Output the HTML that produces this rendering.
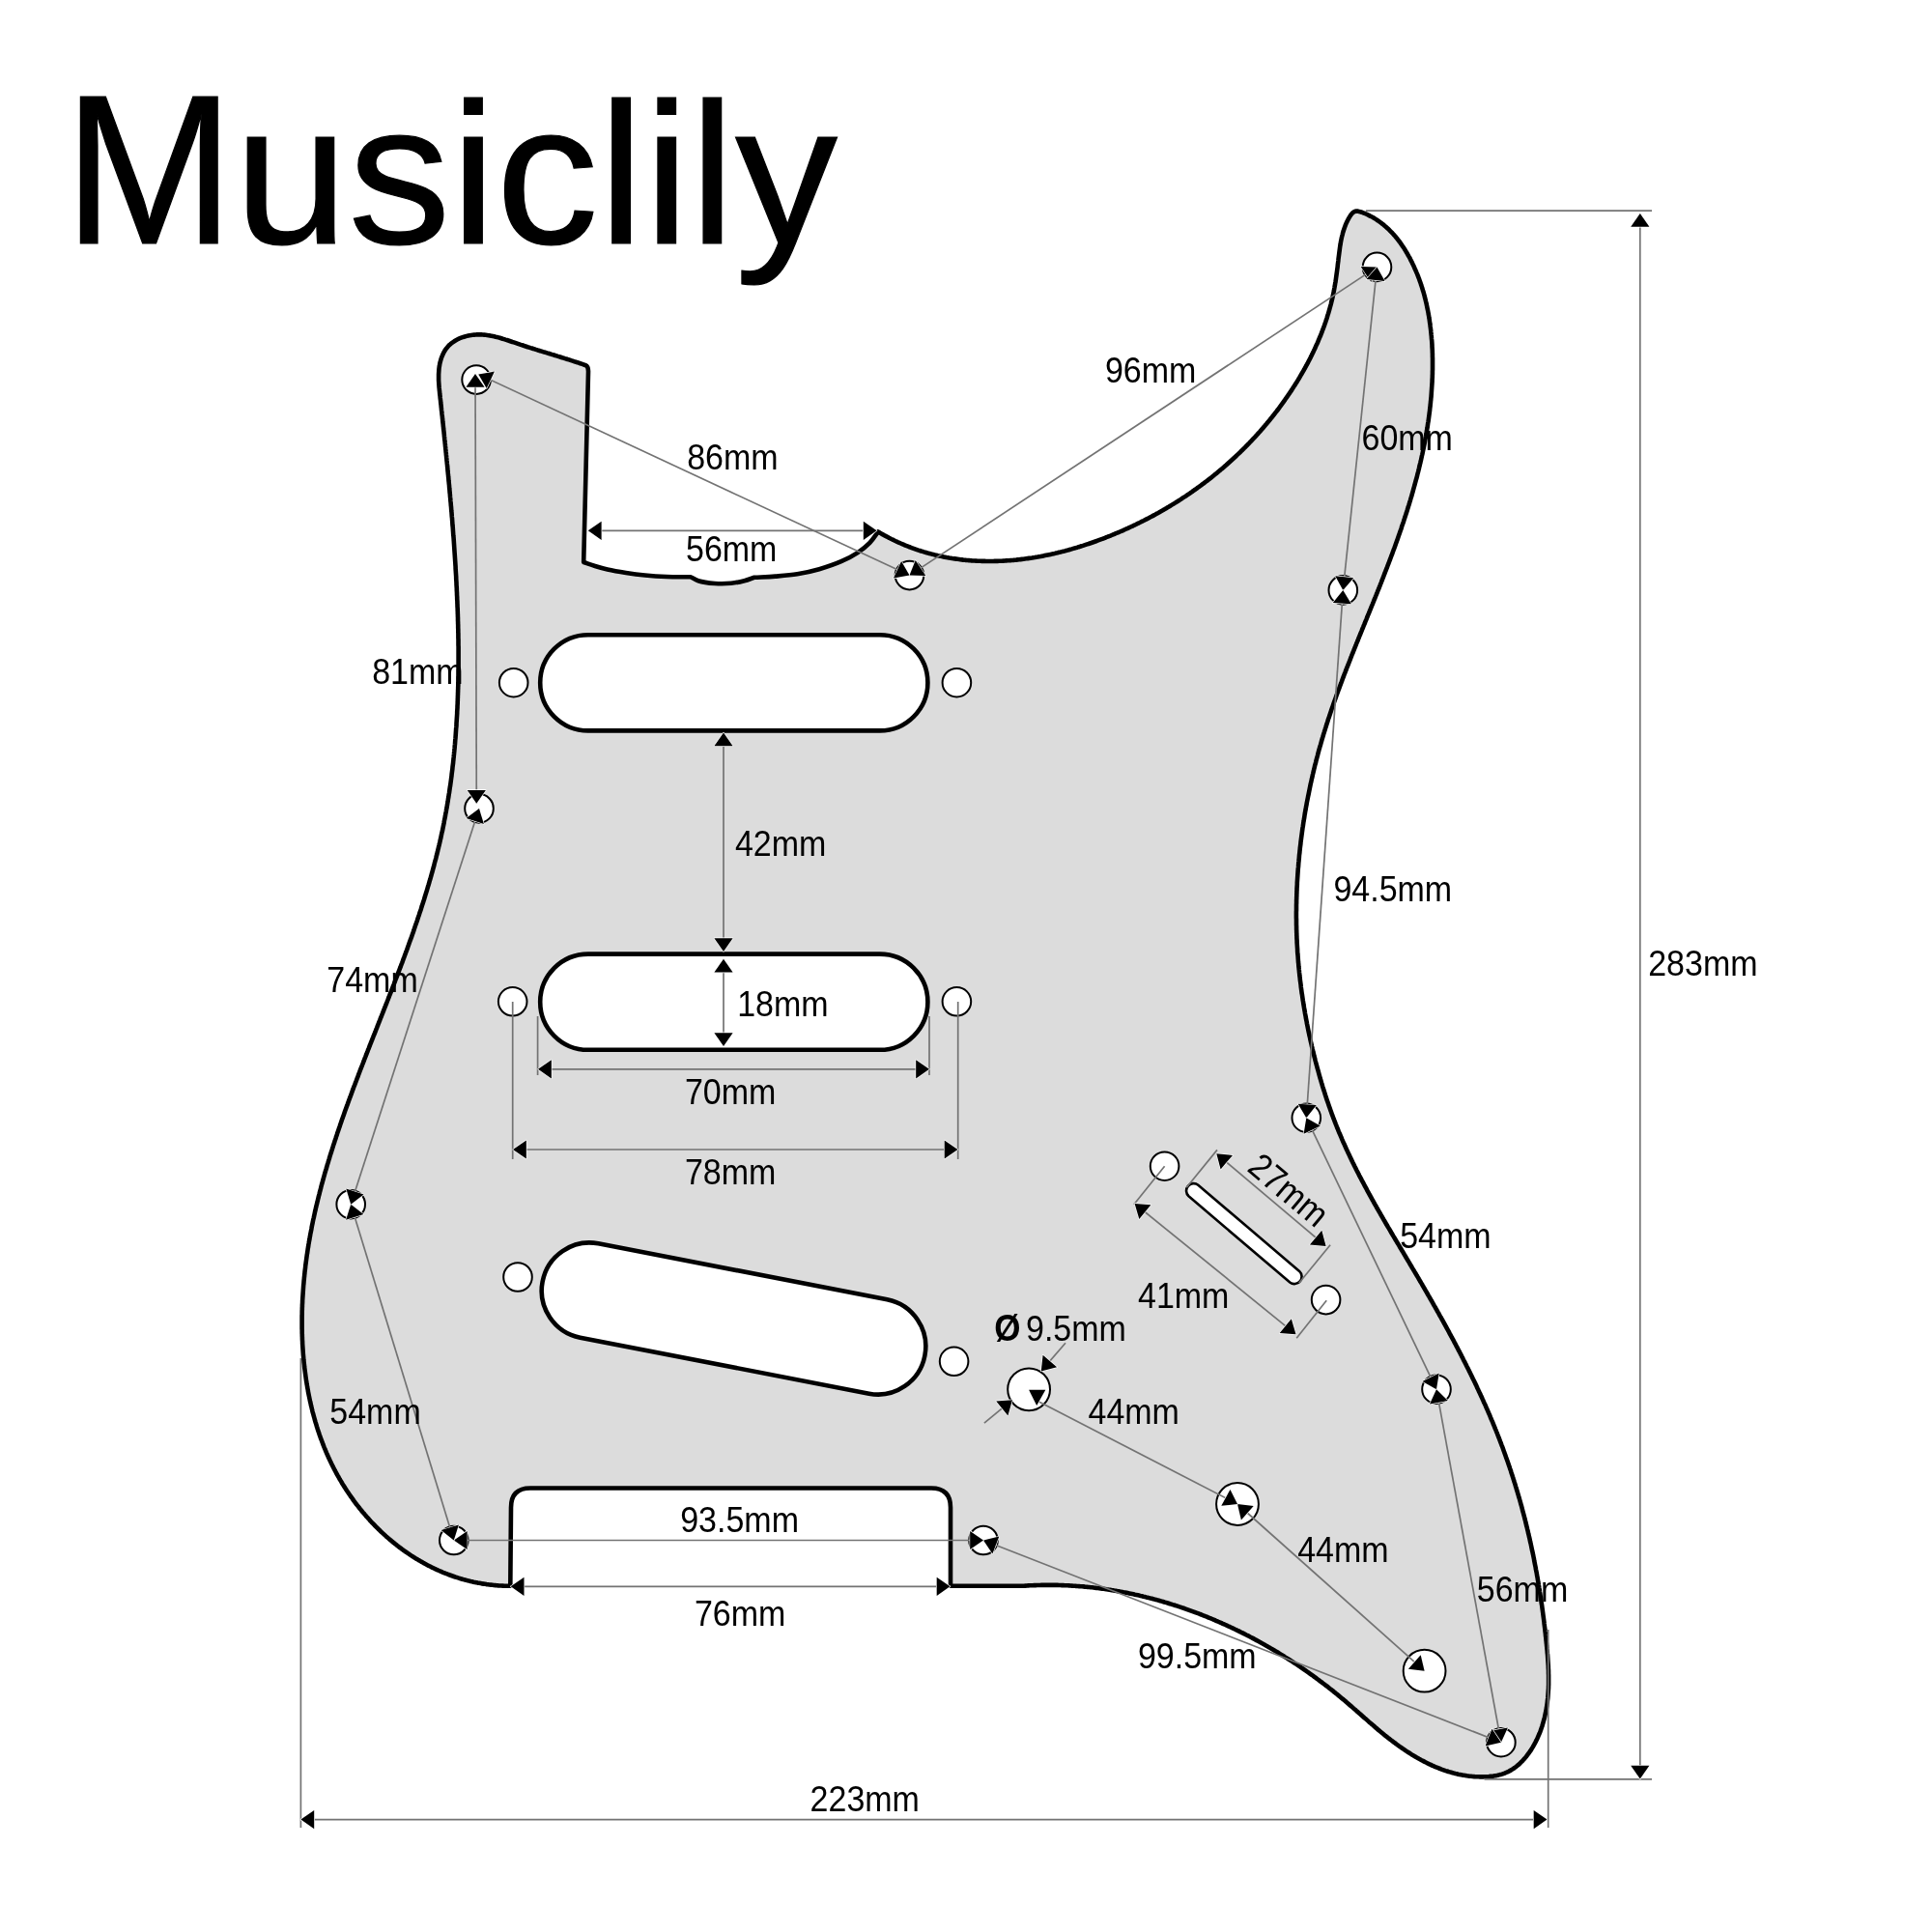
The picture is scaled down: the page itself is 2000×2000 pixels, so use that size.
<!DOCTYPE html><html><head><meta charset="utf-8"><style>html,body{margin:0;padding:0;background:#fff;}svg{display:block;will-change:transform}</style></head><body><svg xmlns="http://www.w3.org/2000/svg" width="2000" height="2000" viewBox="0 0 2000 2000"><rect width="2000" height="2000" fill="#fff"/><g font-family="Liberation Sans" font-size="212" fill="#000" stroke="#000" stroke-width="1.2"><text transform="translate(66,252.3) scale(1,1.039)">M</text><text transform="translate(242.6,252.3) scale(1,0.982)">usiclily</text></g><path d="M528.3,1641.8 L526.7,1641.8 L525.2,1641.8 L523.6,1641.7 L522.0,1641.7 L520.5,1641.6 L518.9,1641.5 L517.4,1641.5 L515.9,1641.4 L514.3,1641.2 L512.8,1641.1 L511.2,1641.0 L509.7,1640.8 L508.2,1640.6 L506.7,1640.5 L505.1,1640.3 L503.6,1640.1 L502.1,1639.8 L500.6,1639.6 L499.1,1639.4 L497.6,1639.1 L496.1,1638.8 L494.6,1638.6 L493.1,1638.3 L491.6,1638.0 L490.2,1637.7 L488.7,1637.3 L487.2,1637.0 L485.8,1636.6 L484.3,1636.3 L482.8,1635.9 L481.4,1635.5 L479.9,1635.1 L478.5,1634.7 L477.0,1634.3 L475.6,1633.8 L474.2,1633.4 L472.7,1632.9 L471.3,1632.5 L469.9,1632.0 L468.5,1631.5 L467.1,1631.0 L465.7,1630.5 L464.3,1630.0 L462.9,1629.4 L461.5,1628.9 L460.1,1628.3 L458.7,1627.8 L457.3,1627.2 L456.0,1626.6 L454.6,1626.0 L453.2,1625.4 L451.9,1624.8 L450.5,1624.2 L449.2,1623.5 L447.8,1622.9 L446.5,1622.2 L445.2,1621.5 L443.8,1620.9 L442.5,1620.2 L441.2,1619.5 L439.9,1618.8 L438.6,1618.1 L437.3,1617.3 L436.0,1616.6 L434.7,1615.8 L433.4,1615.1 L432.1,1614.3 L430.8,1613.6 L429.6,1612.8 L428.3,1612.0 L427.1,1611.2 L425.8,1610.4 L424.6,1609.6 L423.3,1608.7 L422.1,1607.9 L420.9,1607.0 L419.6,1606.2 L418.4,1605.3 L417.2,1604.5 L416.0,1603.6 L414.8,1602.7 L413.6,1601.8 L412.4,1600.9 L411.2,1600.0 L410.1,1599.0 L408.9,1598.1 L407.7,1597.2 L406.6,1596.2 L405.4,1595.3 L404.3,1594.3 L403.1,1593.4 L402.0,1592.4 L400.9,1591.4 L399.7,1590.4 L398.6,1589.4 L397.5,1588.4 L396.4,1587.4 L395.3,1586.4 L394.2,1585.3 L393.2,1584.3 L392.1,1583.3 L391.0,1582.2 L389.9,1581.1 L388.9,1580.1 L387.8,1579.0 L386.8,1577.9 L385.8,1576.9 L384.7,1575.8 L383.7,1574.7 L382.7,1573.6 L381.7,1572.4 L380.7,1571.3 L379.7,1570.2 L378.7,1569.1 L377.7,1567.9 L376.8,1566.8 L375.8,1565.7 L374.8,1564.5 L373.9,1563.3 L372.9,1562.2 L372.0,1561.0 L371.1,1559.8 L370.1,1558.6 L369.2,1557.5 L368.3,1556.3 L367.4,1555.1 L366.5,1553.9 L365.6,1552.6 L364.8,1551.4 L363.9,1550.2 L363.0,1549.0 L362.2,1547.8 L361.3,1546.5 L360.5,1545.3 L359.6,1544.0 L358.8,1542.8 L358.0,1541.5 L357.2,1540.3 L356.4,1539.0 L355.6,1537.7 L354.8,1536.5 L354.0,1535.2 L353.3,1533.9 L352.5,1532.6 L351.7,1531.3 L351.0,1530.0 L350.3,1528.7 L349.5,1527.4 L348.8,1526.1 L348.1,1524.8 L347.4,1523.5 L346.7,1522.2 L346.0,1520.8 L345.3,1519.5 L344.6,1518.2 L344.0,1516.8 L343.3,1515.5 L342.7,1514.2 L342.0,1512.8 L341.4,1511.5 L340.8,1510.1 L340.1,1508.8 L339.5,1507.4 L338.9,1506.0 L338.3,1504.7 L337.7,1503.3 L337.1,1501.9 L336.6,1500.5 L336.0,1499.2 L335.4,1497.8 L334.9,1496.4 L334.3,1495.0 L333.8,1493.6 L333.3,1492.2 L332.8,1490.8 L332.2,1489.4 L331.7,1488.0 L331.2,1486.6 L330.7,1485.2 L330.3,1483.8 L329.8,1482.4 L329.3,1480.9 L328.8,1479.5 L328.4,1478.1 L327.9,1476.7 L327.5,1475.2 L327.1,1473.8 L326.6,1472.4 L326.2,1470.9 L325.8,1469.5 L325.4,1468.0 L325.0,1466.6 L324.6,1465.2 L324.2,1463.7 L323.8,1462.3 L323.4,1460.8 L323.1,1459.3 L322.7,1457.9 L322.4,1456.4 L322.0,1455.0 L321.7,1453.5 L321.4,1452.0 L321.0,1450.6 L320.7,1449.1 L320.4,1447.6 L320.1,1446.1 L319.8,1444.7 L319.5,1443.2 L319.2,1441.7 L318.9,1440.2 L318.7,1438.7 L318.4,1437.3 L318.1,1435.8 L317.9,1434.3 L317.6,1432.8 L317.4,1431.3 L317.1,1429.8 L316.9,1428.3 L316.7,1426.8 L316.5,1425.3 L316.3,1423.8 L316.1,1422.3 L315.9,1420.8 L315.7,1419.3 L315.5,1417.8 L315.3,1416.3 L315.1,1414.8 L315.0,1413.3 L314.8,1411.8 L314.6,1410.3 L314.5,1408.8 L314.3,1407.3 L314.2,1405.8 L314.1,1404.3 L313.9,1402.8 L313.8,1401.2 L313.7,1399.7 L313.6,1398.2 L313.5,1396.7 L313.4,1395.2 L313.3,1393.7 L313.2,1392.2 L313.1,1390.6 L313.1,1389.1 L313.0,1387.6 L312.9,1386.1 L312.9,1384.6 L312.8,1383.1 L312.8,1381.5 L312.7,1380.0 L312.7,1378.5 L312.7,1377.0 L312.6,1375.5 L312.6,1373.9 L312.6,1372.4 L312.6,1370.9 L312.6,1369.4 L312.6,1367.9 L312.6,1366.3 L312.6,1364.8 L312.6,1363.3 L312.6,1361.8 L312.7,1360.3 L312.7,1358.8 L312.7,1357.2 L312.8,1355.7 L312.8,1354.2 L312.9,1352.7 L312.9,1351.2 L313.0,1349.7 L313.1,1348.2 L313.1,1346.6 L313.2,1345.1 L313.3,1343.6 L313.4,1342.1 L313.5,1340.6 L313.6,1339.1 L313.7,1337.6 L313.8,1336.1 L313.9,1334.6 L314.0,1333.1 L314.1,1331.6 L314.2,1330.1 L314.4,1328.6 L314.5,1327.1 L314.6,1325.6 L314.8,1324.1 L314.9,1322.6 L315.1,1321.1 L315.2,1319.6 L315.4,1318.1 L315.5,1316.6 L315.7,1315.1 L315.9,1313.6 L316.1,1312.1 L316.2,1310.6 L316.4,1309.1 L316.6,1307.6 L316.8,1306.2 L317.0,1304.7 L317.2,1303.2 L317.4,1301.7 L317.6,1300.2 L317.8,1298.7 L318.1,1297.3 L318.3,1295.8 L318.5,1294.3 L318.7,1292.8 L319.0,1291.3 L319.2,1289.9 L319.4,1288.4 L319.7,1286.9 L319.9,1285.4 L320.2,1284.0 L320.5,1282.5 L320.7,1281.0 L321.0,1279.6 L321.2,1278.1 L321.5,1276.6 L321.8,1275.2 L322.1,1273.7 L322.4,1272.2 L322.6,1270.8 L322.9,1269.3 L323.2,1267.8 L323.5,1266.4 L323.8,1264.9 L324.1,1263.4 L324.4,1262.0 L324.8,1260.5 L325.1,1259.1 L325.4,1257.6 L325.7,1256.2 L326.0,1254.7 L326.4,1253.2 L326.7,1251.8 L327.0,1250.3 L327.4,1248.9 L327.7,1247.4 L328.1,1246.0 L328.4,1244.5 L328.8,1243.1 L329.1,1241.6 L329.5,1240.2 L329.8,1238.7 L330.2,1237.3 L330.6,1235.8 L330.9,1234.4 L331.3,1233.0 L331.7,1231.5 L332.1,1230.1 L332.4,1228.6 L332.8,1227.2 L333.2,1225.7 L333.6,1224.3 L334.0,1222.9 L334.4,1221.4 L334.8,1220.0 L335.2,1218.5 L335.6,1217.1 L336.0,1215.7 L336.4,1214.2 L336.8,1212.8 L337.2,1211.4 L337.7,1209.9 L338.1,1208.5 L338.5,1207.1 L338.9,1205.6 L339.4,1204.2 L339.8,1202.8 L340.2,1201.3 L340.7,1199.9 L341.1,1198.5 L341.5,1197.0 L342.0,1195.6 L342.4,1194.2 L342.9,1192.8 L343.3,1191.3 L343.8,1189.9 L344.2,1188.5 L344.7,1187.0 L345.1,1185.6 L345.6,1184.2 L346.1,1182.8 L346.5,1181.3 L347.0,1179.9 L347.5,1178.5 L347.9,1177.1 L348.4,1175.7 L348.9,1174.2 L349.3,1172.8 L349.8,1171.4 L350.3,1170.0 L350.8,1168.6 L351.3,1167.1 L351.8,1165.7 L352.2,1164.3 L352.7,1162.9 L353.2,1161.5 L353.7,1160.0 L354.2,1158.6 L354.7,1157.2 L355.2,1155.8 L355.7,1154.4 L356.2,1153.0 L356.7,1151.5 L357.2,1150.1 L357.7,1148.7 L358.2,1147.3 L358.7,1145.9 L359.2,1144.5 L359.8,1143.1 L360.3,1141.6 L360.8,1140.2 L361.3,1138.8 L361.8,1137.4 L362.3,1136.0 L362.9,1134.6 L363.4,1133.2 L363.9,1131.8 L364.4,1130.4 L364.9,1128.9 L365.5,1127.5 L366.0,1126.1 L366.5,1124.7 L367.1,1123.3 L367.6,1121.9 L368.1,1120.5 L368.7,1119.1 L369.2,1117.7 L369.7,1116.3 L370.3,1114.9 L370.8,1113.5 L371.3,1112.0 L371.9,1110.6 L372.4,1109.2 L372.9,1107.8 L373.5,1106.4 L374.0,1105.0 L374.6,1103.6 L375.1,1102.2 L375.7,1100.8 L376.2,1099.4 L376.8,1098.0 L377.3,1096.6 L377.8,1095.2 L378.4,1093.8 L378.9,1092.4 L379.5,1091.0 L380.0,1089.6 L380.6,1088.1 L381.1,1086.7 L381.7,1085.3 L382.2,1083.9 L382.8,1082.5 L383.3,1081.1 L383.9,1079.7 L384.4,1078.3 L385.0,1076.9 L385.5,1075.5 L386.1,1074.1 L386.6,1072.7 L387.2,1071.3 L387.8,1069.9 L388.3,1068.5 L388.9,1067.1 L389.4,1065.7 L390.0,1064.3 L390.5,1062.9 L391.1,1061.5 L391.6,1060.1 L392.2,1058.7 L392.7,1057.3 L393.3,1055.8 L393.8,1054.4 L394.4,1053.0 L395.0,1051.6 L395.5,1050.2 L396.1,1048.8 L396.6,1047.4 L397.2,1046.0 L397.7,1044.6 L398.3,1043.2 L398.8,1041.8 L399.4,1040.4 L399.9,1039.0 L400.5,1037.6 L401.0,1036.2 L401.6,1034.8 L402.1,1033.4 L402.7,1032.0 L403.2,1030.6 L403.8,1029.2 L404.3,1027.8 L404.9,1026.3 L405.4,1024.9 L406.0,1023.5 L406.5,1022.1 L407.0,1020.7 L407.6,1019.3 L408.1,1017.9 L408.7,1016.5 L409.2,1015.1 L409.7,1013.7 L410.3,1012.3 L410.8,1010.9 L411.4,1009.5 L411.9,1008.1 L412.4,1006.6 L413.0,1005.2 L413.5,1003.8 L414.0,1002.4 L414.6,1001.0 L415.1,999.6 L415.6,998.2 L416.2,996.8 L416.7,995.4 L417.2,994.0 L417.7,992.5 L418.3,991.1 L418.8,989.7 L419.3,988.3 L419.8,986.9 L420.3,985.5 L420.9,984.1 L421.4,982.7 L421.9,981.2 L422.4,979.8 L422.9,978.4 L423.4,977.0 L423.9,975.6 L424.4,974.2 L425.0,972.7 L425.5,971.3 L426.0,969.9 L426.5,968.5 L427.0,967.1 L427.5,965.7 L428.0,964.2 L428.5,962.8 L428.9,961.4 L429.4,960.0 L429.9,958.6 L430.4,957.1 L430.9,955.7 L431.4,954.3 L431.9,952.9 L432.3,951.5 L432.8,950.0 L433.3,948.6 L433.8,947.2 L434.2,945.8 L434.7,944.3 L435.2,942.9 L435.7,941.5 L436.1,940.1 L436.6,938.6 L437.0,937.2 L437.5,935.8 L438.0,934.3 L438.4,932.9 L438.9,931.5 L439.3,930.1 L439.8,928.6 L440.2,927.2 L440.6,925.8 L441.1,924.3 L441.5,922.9 L442.0,921.5 L442.4,920.0 L442.8,918.6 L443.2,917.2 L443.7,915.7 L444.1,914.3 L444.5,912.9 L444.9,911.4 L445.4,910.0 L445.8,908.5 L446.2,907.1 L446.6,905.7 L447.0,904.2 L447.4,902.8 L447.8,901.3 L448.2,899.9 L448.6,898.4 L449.0,897.0 L449.4,895.6 L449.7,894.1 L450.1,892.7 L450.5,891.2 L450.9,889.8 L451.3,888.3 L451.6,886.9 L452.0,885.4 L452.4,884.0 L452.7,882.5 L453.1,881.1 L453.4,879.6 L453.8,878.2 L454.1,876.7 L454.5,875.3 L454.8,873.8 L455.2,872.3 L455.5,870.9 L455.8,869.4 L456.2,868.0 L456.5,866.5 L456.8,865.0 L457.1,863.6 L457.4,862.1 L457.8,860.7 L458.1,859.2 L458.4,857.7 L458.7,856.3 L459.0,854.8 L459.3,853.3 L459.6,851.9 L459.8,850.4 L460.1,848.9 L460.4,847.5 L460.7,846.0 L461.0,844.5 L461.2,843.0 L461.5,841.6 L461.8,840.1 L462.0,838.6 L462.3,837.2 L462.6,835.7 L462.8,834.2 L463.1,832.7 L463.3,831.2 L463.6,829.8 L463.8,828.3 L464.0,826.8 L464.3,825.3 L464.5,823.8 L464.7,822.4 L465.0,820.9 L465.2,819.4 L465.4,817.9 L465.6,816.4 L465.8,815.0 L466.1,813.5 L466.3,812.0 L466.5,810.5 L466.7,809.0 L466.9,807.5 L467.1,806.0 L467.3,804.5 L467.5,803.1 L467.6,801.6 L467.8,800.1 L468.0,798.6 L468.2,797.1 L468.4,795.6 L468.5,794.1 L468.7,792.6 L468.9,791.1 L469.1,789.6 L469.2,788.1 L469.4,786.7 L469.5,785.2 L469.7,783.7 L469.8,782.2 L470.0,780.7 L470.1,779.2 L470.3,777.7 L470.4,776.2 L470.6,774.7 L470.7,773.2 L470.8,771.7 L471.0,770.2 L471.1,768.7 L471.2,767.2 L471.3,765.7 L471.5,764.2 L471.6,762.7 L471.7,761.2 L471.8,759.7 L471.9,758.2 L472.0,756.7 L472.1,755.2 L472.2,753.7 L472.4,752.2 L472.5,750.7 L472.5,749.2 L472.6,747.7 L472.7,746.2 L472.8,744.7 L472.9,743.2 L473.0,741.7 L473.1,740.2 L473.2,738.7 L473.2,737.2 L473.3,735.6 L473.4,734.1 L473.5,732.6 L473.5,731.1 L473.6,729.6 L473.7,728.1 L473.7,726.6 L473.8,725.1 L473.8,723.6 L473.9,722.1 L473.9,720.6 L474.0,719.1 L474.0,717.6 L474.1,716.1 L474.1,714.6 L474.2,713.1 L474.2,711.6 L474.3,710.0 L474.3,708.5 L474.3,707.0 L474.4,705.5 L474.4,704.0 L474.4,702.5 L474.4,701.0 L474.5,699.5 L474.5,698.0 L474.5,696.5 L474.5,695.0 L474.5,693.5 L474.6,692.0 L474.6,690.5 L474.6,689.0 L474.6,687.4 L474.6,685.9 L474.6,684.4 L474.6,682.9 L474.6,681.4 L474.6,679.9 L474.6,678.4 L474.6,676.9 L474.6,675.4 L474.6,673.9 L474.6,672.4 L474.6,670.9 L474.6,669.4 L474.5,667.9 L474.5,666.4 L474.5,664.9 L474.5,663.3 L474.5,661.8 L474.4,660.3 L474.4,658.8 L474.4,657.3 L474.4,655.8 L474.3,654.3 L474.3,652.8 L474.3,651.3 L474.2,649.8 L474.2,648.3 L474.2,646.8 L474.1,645.3 L474.1,643.8 L474.0,642.3 L474.0,640.8 L474.0,639.3 L473.9,637.8 L473.9,636.3 L473.8,634.8 L473.8,633.3 L473.7,631.8 L473.7,630.3 L473.6,628.8 L473.5,627.3 L473.5,625.8 L473.4,624.3 L473.4,622.8 L473.3,621.3 L473.2,619.8 L473.2,618.3 L473.1,616.8 L473.0,615.3 L473.0,613.8 L472.9,612.3 L472.8,610.8 L472.8,609.3 L472.7,607.8 L472.6,606.3 L472.5,604.8 L472.5,603.3 L472.4,601.8 L472.3,600.4 L472.2,598.9 L472.2,597.4 L472.1,595.9 L472.0,594.4 L471.9,592.9 L471.8,591.4 L471.7,589.9 L471.6,588.4 L471.6,586.9 L471.5,585.5 L471.4,584.0 L471.3,582.5 L471.2,581.0 L471.1,579.5 L471.0,578.0 L470.9,576.5 L470.8,575.0 L470.7,573.6 L470.6,572.1 L470.5,570.6 L470.4,569.1 L470.3,567.6 L470.2,566.1 L470.1,564.7 L470.0,563.2 L469.9,561.7 L469.8,560.2 L469.7,558.7 L469.6,557.2 L469.5,555.8 L469.3,554.3 L469.2,552.8 L469.1,551.3 L469.0,549.8 L468.9,548.3 L468.8,546.9 L468.7,545.4 L468.5,543.9 L468.4,542.4 L468.3,540.9 L468.2,539.4 L468.1,538.0 L468.0,536.5 L467.8,535.0 L467.7,533.5 L467.6,532.0 L467.5,530.5 L467.3,529.1 L467.2,527.6 L467.1,526.1 L467.0,524.6 L466.8,523.1 L466.7,521.6 L466.6,520.2 L466.4,518.7 L466.3,517.2 L466.2,515.7 L466.0,514.2 L465.9,512.7 L465.8,511.2 L465.6,509.8 L465.5,508.3 L465.4,506.8 L465.2,505.3 L465.1,503.8 L465.0,502.3 L464.8,500.8 L464.7,499.3 L464.5,497.9 L464.4,496.4 L464.3,494.9 L464.1,493.4 L464.0,491.9 L463.8,490.4 L463.7,488.9 L463.5,487.4 L463.4,485.9 L463.3,484.4 L463.1,482.9 L463.0,481.5 L462.8,480.0 L462.7,478.5 L462.5,477.0 L462.4,475.5 L462.2,474.0 L462.1,472.5 L461.9,471.0 L461.8,469.5 L461.6,468.0 L461.5,466.5 L461.3,465.0 L461.2,463.5 L461.0,462.0 L460.9,460.5 L460.7,459.0 L460.6,457.5 L460.4,456.0 L460.2,454.5 L460.1,453.0 L459.9,451.5 L459.8,449.9 L459.6,448.4 L459.5,446.9 L459.3,445.4 L459.1,443.9 L459.0,442.4 L458.8,440.9 L458.7,439.4 L458.5,437.9 L458.3,436.3 L458.2,434.8 L458.0,433.3 L457.9,431.8 L457.7,430.3 L457.5,428.7 L457.4,427.2 L457.2,425.7 L457.0,424.2 L456.9,422.7 L456.7,421.1 L456.6,419.6 L456.4,418.1 L456.2,416.6 L456.1,415.0 L455.9,413.5 L455.7,412.0 L455.6,410.4 L455.4,408.9 L455.2,407.4 L455.1,405.8 L454.9,404.3 L454.8,402.8 L454.6,401.2 L454.5,399.7 L454.4,398.2 L454.3,396.6 L454.2,395.1 L454.1,393.6 L454.1,392.0 L454.1,390.5 L454.1,389.0 L454.1,387.5 L454.2,386.0 L454.3,384.5 L454.4,383.0 L454.5,381.5 L454.7,380.0 L455.0,378.5 L455.2,377.0 L455.5,375.5 L455.9,374.1 L456.3,372.6 L456.7,371.2 L457.2,369.8 L457.8,368.4 L458.4,367.0 L459.0,365.7 L459.7,364.4 L460.4,363.1 L461.2,361.9 L462.1,360.7 L463.0,359.6 L463.9,358.5 L464.9,357.4 L466.0,356.5 L467.1,355.5 L468.3,354.6 L469.5,353.8 L470.7,353.0 L472.0,352.2 L473.3,351.5 L474.6,350.8 L476.0,350.2 L477.4,349.7 L478.8,349.2 L480.3,348.7 L481.8,348.3 L483.2,347.9 L484.7,347.5 L486.2,347.2 L487.7,347.0 L489.3,346.8 L490.8,346.6 L492.3,346.5 L493.8,346.4 L495.3,346.4 L496.8,346.4 L498.3,346.4 L499.8,346.5 L501.3,346.6 L502.8,346.8 L504.3,347.0 L505.7,347.2 L507.2,347.4 L508.7,347.7 L510.2,348.0 L511.6,348.3 L513.1,348.7 L514.6,349.0 L516.0,349.4 L517.5,349.8 L518.9,350.2 L520.4,350.7 L521.8,351.1 L523.3,351.6 L524.7,352.0 L526.2,352.5 L527.6,353.0 L529.0,353.5 L530.5,354.0 L531.9,354.4 L533.4,354.9 L534.8,355.4 L536.2,355.9 L537.7,356.4 L539.1,356.9 L540.5,357.3 L542.0,357.8 L543.4,358.3 L544.8,358.7 L546.3,359.2 L547.7,359.6 L549.1,360.1 L550.6,360.5 L552.0,361.0 L553.4,361.4 L554.8,361.9 L556.3,362.3 L557.7,362.8 L559.1,363.2 L560.6,363.6 L562.0,364.1 L563.4,364.5 L564.8,364.9 L566.3,365.4 L567.7,365.8 L569.1,366.2 L570.5,366.7 L572.0,367.1 L573.4,367.5 L574.8,368.0 L576.2,368.4 L577.7,368.9 L579.1,369.3 L580.5,369.7 L582.0,370.2 L583.4,370.6 L584.8,371.1 L586.2,371.5 L587.7,372.0 L589.1,372.4 L590.5,372.9 L592.0,373.4 L593.4,373.8 L594.8,374.3 L596.3,374.8 L597.7,375.2 L599.1,375.7 L600.6,376.2 L602.0,376.7 L603.4,377.2 L604.9,377.7 L606.3,378.2 Q609.2,379.5 609,385 L604.2,582  C608.13,583.33 611.97,584.77 616.00,586.00 C620.16,587.27 624.08,588.43 628.80,589.50 C634.53,590.80 641.55,592.00 648.00,593.00 C654.49,594.00 660.84,594.84 667.60,595.50 C674.81,596.20 682.34,596.71 690.00,597.00 C698.05,597.30 706.53,597.13 714.80,597.20 C717.47,598.53 719.54,600.14 722.80,601.20 C727.34,602.67 734.19,603.57 739.90,604.00 C745.56,604.43 751.56,604.33 756.90,603.80 C761.74,603.32 766.40,602.29 770.60,601.20 C774.29,600.24 777.40,598.93 780.80,597.80 C788.03,597.40 795.18,597.17 802.50,596.60 C810.01,596.01 817.75,595.53 825.30,594.30 C832.91,593.07 840.49,591.35 848.00,589.20 C855.66,587.00 863.85,584.25 870.80,581.20 C877.02,578.47 882.79,575.50 887.90,572.10 C892.56,569.00 896.81,565.63 900.40,561.90 C903.78,558.39 906.13,554.30 909.00,550.50 L910.4,551.3 L911.7,552.1 L913.1,552.9 L914.4,553.6 L915.8,554.4 L917.2,555.1 L918.5,555.8 L919.9,556.6 L921.3,557.3 L922.7,558.0 L924.1,558.6 L925.4,559.3 L926.8,560.0 L928.2,560.6 L929.6,561.3 L931.0,561.9 L932.4,562.5 L933.8,563.1 L935.2,563.7 L936.6,564.3 L938.0,564.9 L939.4,565.4 L940.8,566.0 L942.3,566.5 L943.7,567.1 L945.1,567.6 L946.5,568.1 L947.9,568.6 L949.3,569.1 L950.8,569.6 L952.2,570.0 L953.6,570.5 L955.1,570.9 L956.5,571.4 L957.9,571.8 L959.4,572.2 L960.8,572.6 L962.2,573.0 L963.7,573.4 L965.1,573.8 L966.6,574.1 L968.0,574.5 L969.4,574.8 L970.9,575.2 L972.3,575.5 L973.8,575.8 L975.2,576.1 L976.7,576.4 L978.2,576.7 L979.6,577.0 L981.1,577.2 L982.5,577.5 L984.0,577.7 L985.5,578.0 L986.9,578.2 L988.4,578.4 L989.8,578.6 L991.3,578.8 L992.8,579.0 L994.2,579.2 L995.7,579.4 L997.2,579.6 L998.7,579.7 L1000.1,579.9 L1001.6,580.0 L1003.1,580.1 L1004.6,580.2 L1006.0,580.4 L1007.5,580.5 L1009.0,580.5 L1010.5,580.6 L1011.9,580.7 L1013.4,580.8 L1014.9,580.8 L1016.4,580.9 L1017.9,580.9 L1019.3,580.9 L1020.8,581.0 L1022.3,581.0 L1023.8,581.0 L1025.3,581.0 L1026.8,581.0 L1028.2,581.0 L1029.7,580.9 L1031.2,580.9 L1032.7,580.9 L1034.2,580.8 L1035.7,580.7 L1037.1,580.7 L1038.6,580.6 L1040.1,580.5 L1041.6,580.4 L1043.1,580.3 L1044.6,580.2 L1046.1,580.1 L1047.5,580.0 L1049.0,579.9 L1050.5,579.7 L1052.0,579.6 L1053.5,579.4 L1055.0,579.3 L1056.4,579.1 L1057.9,578.9 L1059.4,578.7 L1060.9,578.5 L1062.4,578.3 L1063.9,578.1 L1065.3,577.9 L1066.8,577.7 L1068.3,577.5 L1069.8,577.2 L1071.3,577.0 L1072.7,576.7 L1074.2,576.5 L1075.7,576.2 L1077.2,576.0 L1078.7,575.7 L1080.1,575.4 L1081.6,575.1 L1083.1,574.8 L1084.6,574.5 L1086.0,574.2 L1087.5,573.9 L1089.0,573.6 L1090.4,573.2 L1091.9,572.9 L1093.4,572.5 L1094.8,572.2 L1096.3,571.8 L1097.8,571.5 L1099.2,571.1 L1100.7,570.7 L1102.2,570.4 L1103.6,570.0 L1105.1,569.6 L1106.5,569.2 L1108.0,568.8 L1109.4,568.4 L1110.9,567.9 L1112.4,567.5 L1113.8,567.1 L1115.3,566.7 L1116.7,566.2 L1118.1,565.8 L1119.6,565.3 L1121.0,564.9 L1122.5,564.4 L1123.9,563.9 L1125.4,563.4 L1126.8,563.0 L1128.2,562.5 L1129.7,562.0 L1131.1,561.5 L1132.5,561.0 L1133.9,560.5 L1135.4,560.0 L1136.8,559.4 L1138.2,558.9 L1139.6,558.4 L1141.1,557.9 L1142.5,557.3 L1143.9,556.8 L1145.3,556.2 L1146.7,555.7 L1148.1,555.1 L1149.5,554.6 L1150.9,554.0 L1152.3,553.4 L1153.7,552.8 L1155.1,552.2 L1156.5,551.7 L1157.9,551.1 L1159.3,550.5 L1160.7,549.9 L1162.1,549.3 L1163.4,548.7 L1164.8,548.0 L1166.2,547.4 L1167.6,546.8 L1168.9,546.2 L1170.3,545.5 L1171.7,544.9 L1173.0,544.3 L1174.4,543.6 L1175.8,543.0 L1177.1,542.3 L1178.5,541.6 L1179.8,541.0 L1181.2,540.3 L1182.5,539.6 L1183.9,539.0 L1185.2,538.3 L1186.5,537.6 L1187.9,536.9 L1189.2,536.2 L1190.5,535.5 L1191.9,534.8 L1193.2,534.1 L1194.5,533.4 L1195.8,532.7 L1197.1,531.9 L1198.5,531.2 L1199.8,530.5 L1201.1,529.7 L1202.4,529.0 L1203.7,528.3 L1205.0,527.5 L1206.3,526.8 L1207.6,526.0 L1208.8,525.2 L1210.1,524.5 L1211.4,523.7 L1212.7,522.9 L1214.0,522.1 L1215.2,521.4 L1216.5,520.6 L1217.8,519.8 L1219.1,519.0 L1220.3,518.2 L1221.6,517.4 L1222.8,516.6 L1224.1,515.7 L1225.3,514.9 L1226.6,514.1 L1227.8,513.3 L1229.1,512.4 L1230.3,511.6 L1231.5,510.8 L1232.8,509.9 L1234.0,509.1 L1235.2,508.2 L1236.4,507.3 L1237.7,506.5 L1238.9,505.6 L1240.1,504.7 L1241.3,503.9 L1242.5,503.0 L1243.7,502.1 L1244.9,501.2 L1246.1,500.3 L1247.3,499.4 L1248.5,498.5 L1249.7,497.6 L1250.8,496.7 L1252.0,495.8 L1253.2,494.9 L1254.4,493.9 L1255.5,493.0 L1256.7,492.1 L1257.9,491.1 L1259.0,490.2 L1260.2,489.2 L1261.3,488.3 L1262.5,487.3 L1263.6,486.4 L1264.7,485.4 L1265.9,484.4 L1267.0,483.5 L1268.1,482.5 L1269.3,481.5 L1270.4,480.5 L1271.5,479.5 L1272.6,478.5 L1273.7,477.5 L1274.8,476.5 L1275.9,475.5 L1277.0,474.5 L1278.1,473.5 L1279.2,472.5 L1280.3,471.4 L1281.4,470.4 L1282.5,469.4 L1283.6,468.3 L1284.6,467.3 L1285.7,466.3 L1286.8,465.2 L1287.8,464.1 L1288.9,463.1 L1289.9,462.0 L1291.0,461.0 L1292.0,459.9 L1293.1,458.8 L1294.1,457.7 L1295.2,456.6 L1296.2,455.5 L1297.2,454.4 L1298.2,453.4 L1299.3,452.2 L1300.3,451.1 L1301.3,450.0 L1302.3,448.9 L1303.3,447.8 L1304.3,446.7 L1305.3,445.5 L1306.3,444.4 L1307.3,443.3 L1308.2,442.1 L1309.2,441.0 L1310.2,439.8 L1311.2,438.7 L1312.1,437.5 L1313.1,436.4 L1314.1,435.2 L1315.0,434.0 L1316.0,432.8 L1316.9,431.7 L1317.8,430.5 L1318.8,429.3 L1319.7,428.1 L1320.6,426.9 L1321.6,425.7 L1322.5,424.5 L1323.4,423.3 L1324.3,422.1 L1325.2,420.8 L1326.1,419.6 L1327.0,418.4 L1327.9,417.2 L1328.8,415.9 L1329.7,414.7 L1330.5,413.4 L1331.4,412.2 L1332.3,410.9 L1333.1,409.7 L1334.0,408.4 L1334.9,407.2 L1335.7,405.9 L1336.6,404.6 L1337.4,403.4 L1338.2,402.1 L1339.0,400.8 L1339.9,399.5 L1340.7,398.2 L1341.5,396.9 L1342.3,395.7 L1343.1,394.4 L1343.9,393.1 L1344.7,391.8 L1345.5,390.4 L1346.2,389.1 L1347.0,387.8 L1347.8,386.5 L1348.5,385.2 L1349.3,383.9 L1350.0,382.5 L1350.8,381.2 L1351.5,379.9 L1352.2,378.5 L1353.0,377.2 L1353.7,375.9 L1354.4,374.5 L1355.1,373.2 L1355.8,371.8 L1356.5,370.5 L1357.1,369.1 L1357.8,367.8 L1358.5,366.4 L1359.1,365.1 L1359.8,363.7 L1360.4,362.3 L1361.1,361.0 L1361.7,359.6 L1362.3,358.2 L1362.9,356.8 L1363.6,355.5 L1364.2,354.1 L1364.8,352.7 L1365.3,351.3 L1365.9,349.9 L1366.5,348.5 L1367.1,347.2 L1367.6,345.8 L1368.2,344.4 L1368.7,343.0 L1369.2,341.6 L1369.8,340.2 L1370.3,338.8 L1370.8,337.4 L1371.3,336.0 L1371.8,334.6 L1372.3,333.2 L1372.7,331.8 L1373.2,330.4 L1373.7,328.9 L1374.1,327.5 L1374.5,326.1 L1375.0,324.7 L1375.4,323.3 L1375.8,321.9 L1376.2,320.5 L1376.6,319.0 L1377.0,317.6 L1377.4,316.2 L1377.8,314.8 L1378.1,313.4 L1378.5,311.9 L1378.8,310.5 L1379.2,309.1 L1379.5,307.7 L1379.8,306.2 L1380.1,304.8 L1380.4,303.4 L1380.7,301.9 L1381.0,300.5 L1381.2,299.1 L1381.5,297.6 L1381.7,296.2 L1382.0,294.8 L1382.2,293.3 L1382.5,291.9 L1382.7,290.4 L1382.9,289.0 L1383.1,287.5 L1383.3,286.1 L1383.5,284.6 L1383.7,283.2 L1383.9,281.7 L1384.1,280.2 L1384.3,278.7 L1384.5,277.3 L1384.7,275.8 L1384.8,274.3 L1385.0,272.8 L1385.2,271.3 L1385.4,269.7 L1385.5,268.2 L1385.7,266.7 L1385.9,265.2 L1386.1,263.7 L1386.3,262.1 L1386.5,260.6 L1386.7,259.1 L1386.9,257.5 L1387.1,256.0 L1387.3,254.5 L1387.6,253.0 L1387.8,251.5 L1388.1,249.9 L1388.4,248.4 L1388.7,246.9 L1389.0,245.5 L1389.4,244.0 L1389.8,242.5 L1390.1,241.1 L1390.6,239.6 L1391.0,238.2 L1391.5,236.7 L1392.0,235.3 L1392.5,233.9 L1393.0,232.6 L1393.6,231.2 L1394.2,229.9 L1394.9,228.5 L1395.6,227.2 L1396.3,225.9 L1397.0,224.7 L1397.8,223.4 L1398.6,222.2 L1399.5,221.1 L1400.5,220.1 L1401.6,219.3 L1402.7,218.8 L1404.0,218.6 L1405.3,218.6 L1406.8,218.9 L1408.2,219.2 L1409.7,219.7 L1411.2,220.3 L1412.7,220.9 L1414.1,221.5 L1415.6,222.2 L1417.0,222.9 L1418.3,223.6 L1419.7,224.3 L1421.1,225.0 L1422.4,225.8 L1423.7,226.6 L1425.0,227.4 L1426.2,228.3 L1427.5,229.1 L1428.7,230.0 L1429.9,230.9 L1431.1,231.8 L1432.3,232.7 L1433.4,233.7 L1434.6,234.7 L1435.7,235.7 L1436.8,236.7 L1437.8,237.7 L1438.9,238.8 L1439.9,239.8 L1441.0,240.9 L1442.0,242.0 L1443.0,243.1 L1444.0,244.2 L1444.9,245.4 L1445.9,246.5 L1446.8,247.7 L1447.7,248.8 L1448.6,250.0 L1449.5,251.2 L1450.3,252.4 L1451.2,253.7 L1452.0,254.9 L1452.9,256.1 L1453.7,257.4 L1454.5,258.7 L1455.2,259.9 L1456.0,261.2 L1456.8,262.5 L1457.5,263.8 L1458.2,265.1 L1459.0,266.4 L1459.7,267.7 L1460.3,269.1 L1461.0,270.4 L1461.7,271.7 L1462.3,273.0 L1463.0,274.4 L1463.6,275.7 L1464.2,277.1 L1464.8,278.5 L1465.4,279.8 L1466.0,281.2 L1466.6,282.6 L1467.2,283.9 L1467.7,285.3 L1468.2,286.7 L1468.8,288.1 L1469.3,289.5 L1469.8,290.9 L1470.3,292.3 L1470.8,293.7 L1471.2,295.1 L1471.7,296.5 L1472.2,298.0 L1472.6,299.4 L1473.0,300.8 L1473.5,302.2 L1473.9,303.7 L1474.3,305.1 L1474.7,306.5 L1475.0,308.0 L1475.4,309.4 L1475.8,310.9 L1476.1,312.3 L1476.5,313.8 L1476.8,315.3 L1477.1,316.7 L1477.4,318.2 L1477.7,319.7 L1478.0,321.1 L1478.3,322.6 L1478.6,324.1 L1478.8,325.6 L1479.1,327.0 L1479.3,328.5 L1479.6,330.0 L1479.8,331.5 L1480.0,333.0 L1480.2,334.5 L1480.5,336.0 L1480.6,337.5 L1480.8,339.0 L1481.0,340.5 L1481.2,342.0 L1481.3,343.5 L1481.5,345.0 L1481.6,346.5 L1481.8,348.0 L1481.9,349.5 L1482.0,351.0 L1482.2,352.5 L1482.3,354.0 L1482.4,355.5 L1482.5,357.0 L1482.5,358.5 L1482.6,360.0 L1482.7,361.6 L1482.8,363.1 L1482.8,364.6 L1482.9,366.1 L1482.9,367.6 L1482.9,369.1 L1483.0,370.6 L1483.0,372.2 L1483.0,373.7 L1483.0,375.2 L1483.0,376.7 L1483.0,378.2 L1483.0,379.7 L1483.0,381.2 L1483.0,382.8 L1482.9,384.3 L1482.9,385.8 L1482.9,387.3 L1482.8,388.8 L1482.8,390.3 L1482.7,391.8 L1482.6,393.3 L1482.6,394.8 L1482.5,396.3 L1482.4,397.8 L1482.3,399.3 L1482.2,400.8 L1482.1,402.3 L1482.0,403.8 L1481.9,405.3 L1481.8,406.8 L1481.7,408.3 L1481.6,409.8 L1481.5,411.3 L1481.3,412.8 L1481.2,414.3 L1481.0,415.8 L1480.9,417.3 L1480.7,418.8 L1480.6,420.3 L1480.4,421.8 L1480.2,423.3 L1480.1,424.8 L1479.9,426.3 L1479.7,427.7 L1479.5,429.2 L1479.3,430.7 L1479.1,432.2 L1478.9,433.7 L1478.7,435.2 L1478.5,436.6 L1478.2,438.1 L1478.0,439.6 L1477.8,441.1 L1477.6,442.6 L1477.3,444.0 L1477.1,445.5 L1476.8,447.0 L1476.6,448.5 L1476.3,450.0 L1476.1,451.4 L1475.8,452.9 L1475.5,454.4 L1475.2,455.8 L1475.0,457.3 L1474.7,458.8 L1474.4,460.3 L1474.1,461.7 L1473.8,463.2 L1473.5,464.7 L1473.2,466.1 L1472.9,467.6 L1472.6,469.1 L1472.3,470.5 L1471.9,472.0 L1471.6,473.4 L1471.3,474.9 L1471.0,476.4 L1470.6,477.8 L1470.3,479.3 L1469.9,480.7 L1469.6,482.2 L1469.2,483.7 L1468.9,485.1 L1468.5,486.6 L1468.2,488.0 L1467.8,489.5 L1467.4,490.9 L1467.1,492.4 L1466.7,493.8 L1466.3,495.3 L1465.9,496.7 L1465.5,498.2 L1465.1,499.6 L1464.7,501.1 L1464.3,502.5 L1463.9,504.0 L1463.5,505.4 L1463.1,506.9 L1462.7,508.3 L1462.3,509.8 L1461.9,511.2 L1461.5,512.6 L1461.1,514.1 L1460.6,515.5 L1460.2,517.0 L1459.8,518.4 L1459.3,519.8 L1458.9,521.3 L1458.5,522.7 L1458.0,524.1 L1457.6,525.6 L1457.1,527.0 L1456.7,528.4 L1456.2,529.9 L1455.8,531.3 L1455.3,532.7 L1454.8,534.2 L1454.4,535.6 L1453.9,537.0 L1453.4,538.4 L1453.0,539.9 L1452.5,541.3 L1452.0,542.7 L1451.5,544.1 L1451.0,545.6 L1450.6,547.0 L1450.1,548.4 L1449.6,549.8 L1449.1,551.3 L1448.6,552.7 L1448.1,554.1 L1447.6,555.5 L1447.1,556.9 L1446.6,558.4 L1446.1,559.8 L1445.6,561.2 L1445.1,562.6 L1444.6,564.0 L1444.1,565.4 L1443.6,566.8 L1443.0,568.3 L1442.5,569.7 L1442.0,571.1 L1441.5,572.5 L1441.0,573.9 L1440.4,575.3 L1439.9,576.7 L1439.4,578.1 L1438.9,579.5 L1438.3,580.9 L1437.8,582.3 L1437.3,583.7 L1436.7,585.1 L1436.2,586.5 L1435.7,587.9 L1435.1,589.3 L1434.6,590.7 L1434.0,592.1 L1433.5,593.5 L1432.9,594.9 L1432.4,596.3 L1431.9,597.7 L1431.3,599.1 L1430.8,600.5 L1430.2,601.9 L1429.7,603.3 L1429.1,604.7 L1428.6,606.1 L1428.0,607.5 L1427.5,608.9 L1426.9,610.3 L1426.3,611.7 L1425.8,613.1 L1425.2,614.5 L1424.7,615.8 L1424.1,617.2 L1423.6,618.6 L1423.0,620.0 L1422.4,621.4 L1421.9,622.8 L1421.3,624.2 L1420.8,625.6 L1420.2,626.9 L1419.6,628.3 L1419.1,629.7 L1418.5,631.1 L1417.9,632.5 L1417.4,633.9 L1416.8,635.3 L1416.2,636.7 L1415.7,638.0 L1415.1,639.4 L1414.6,640.8 L1414.0,642.2 L1413.4,643.6 L1412.9,645.0 L1412.3,646.4 L1411.7,647.7 L1411.2,649.1 L1410.6,650.5 L1410.0,651.9 L1409.5,653.3 L1408.9,654.7 L1408.4,656.0 L1407.8,657.4 L1407.2,658.8 L1406.7,660.2 L1406.1,661.6 L1405.6,663.0 L1405.0,664.4 L1404.4,665.7 L1403.9,667.1 L1403.3,668.5 L1402.8,669.9 L1402.2,671.3 L1401.7,672.7 L1401.1,674.1 L1400.6,675.5 L1400.0,676.8 L1399.4,678.2 L1398.9,679.6 L1398.3,681.0 L1397.8,682.4 L1397.3,683.8 L1396.7,685.2 L1396.2,686.6 L1395.6,688.0 L1395.1,689.4 L1394.5,690.7 L1394.0,692.1 L1393.5,693.5 L1392.9,694.9 L1392.4,696.3 L1391.8,697.7 L1391.3,699.1 L1390.8,700.5 L1390.2,701.9 L1389.7,703.3 L1389.2,704.7 L1388.7,706.1 L1388.1,707.5 L1387.6,708.9 L1387.1,710.3 L1386.6,711.7 L1386.1,713.1 L1385.5,714.5 L1385.0,715.9 L1384.5,717.3 L1384.0,718.7 L1383.5,720.1 L1383.0,721.5 L1382.5,722.9 L1382.0,724.3 L1381.5,725.7 L1381.0,727.1 L1380.5,728.6 L1380.0,730.0 L1379.5,731.4 L1379.0,732.8 L1378.5,734.2 L1378.1,735.6 L1377.6,737.0 L1377.1,738.5 L1376.6,739.9 L1376.2,741.3 L1375.7,742.7 L1375.2,744.1 L1374.7,745.6 L1374.3,747.0 L1373.8,748.4 L1373.4,749.8 L1372.9,751.3 L1372.5,752.7 L1372.0,754.1 L1371.6,755.5 L1371.1,757.0 L1370.7,758.4 L1370.2,759.8 L1369.8,761.3 L1369.4,762.7 L1368.9,764.2 L1368.5,765.6 L1368.1,767.0 L1367.7,768.5 L1367.3,769.9 L1366.9,771.4 L1366.4,772.8 L1366.0,774.3 L1365.6,775.7 L1365.2,777.2 L1364.8,778.6 L1364.4,780.1 L1364.1,781.5 L1363.7,783.0 L1363.3,784.4 L1362.9,785.9 L1362.5,787.3 L1362.2,788.8 L1361.8,790.3 L1361.4,791.7 L1361.0,793.2 L1360.7,794.7 L1360.3,796.1 L1360.0,797.6 L1359.6,799.1 L1359.3,800.5 L1358.9,802.0 L1358.6,803.5 L1358.3,804.9 L1357.9,806.4 L1357.6,807.9 L1357.3,809.4 L1356.9,810.8 L1356.6,812.3 L1356.3,813.8 L1356.0,815.3 L1355.7,816.7 L1355.4,818.2 L1355.1,819.7 L1354.8,821.2 L1354.5,822.7 L1354.2,824.1 L1353.9,825.6 L1353.6,827.1 L1353.3,828.6 L1353.0,830.1 L1352.7,831.6 L1352.5,833.1 L1352.2,834.5 L1351.9,836.0 L1351.7,837.5 L1351.4,839.0 L1351.1,840.5 L1350.9,842.0 L1350.6,843.5 L1350.4,845.0 L1350.2,846.5 L1349.9,848.0 L1349.7,849.5 L1349.4,851.0 L1349.2,852.5 L1349.0,853.9 L1348.8,855.4 L1348.5,856.9 L1348.3,858.4 L1348.1,859.9 L1347.9,861.4 L1347.7,862.9 L1347.5,864.4 L1347.3,865.9 L1347.1,867.4 L1346.9,868.9 L1346.7,870.4 L1346.5,871.9 L1346.4,873.4 L1346.2,874.9 L1346.0,876.4 L1345.8,877.9 L1345.7,879.4 L1345.5,880.9 L1345.4,882.4 L1345.2,883.9 L1345.0,885.4 L1344.9,886.9 L1344.8,888.4 L1344.6,890.0 L1344.5,891.5 L1344.3,893.0 L1344.2,894.5 L1344.1,896.0 L1344.0,897.5 L1343.8,899.0 L1343.7,900.5 L1343.6,902.0 L1343.5,903.5 L1343.4,905.0 L1343.3,906.5 L1343.2,908.0 L1343.1,909.5 L1343.0,911.0 L1342.9,912.5 L1342.8,914.0 L1342.8,915.5 L1342.7,917.0 L1342.6,918.5 L1342.5,920.0 L1342.5,921.5 L1342.4,923.0 L1342.4,924.5 L1342.3,926.0 L1342.3,927.5 L1342.2,929.0 L1342.2,930.5 L1342.1,932.0 L1342.1,933.5 L1342.1,935.0 L1342.0,936.5 L1342.0,938.0 L1342.0,939.5 L1342.0,941.0 L1342.0,942.5 L1341.9,944.0 L1341.9,945.5 L1341.9,947.0 L1341.9,948.5 L1341.9,950.0 L1342.0,951.5 L1342.0,953.0 L1342.0,954.5 L1342.0,956.0 L1342.0,957.5 L1342.1,959.0 L1342.1,960.5 L1342.1,962.0 L1342.2,963.5 L1342.2,965.0 L1342.3,966.5 L1342.3,968.0 L1342.4,969.4 L1342.4,970.9 L1342.5,972.4 L1342.6,973.9 L1342.6,975.4 L1342.7,976.9 L1342.8,978.4 L1342.9,979.9 L1343.0,981.3 L1343.1,982.8 L1343.1,984.3 L1343.2,985.8 L1343.3,987.3 L1343.5,988.8 L1343.6,990.2 L1343.7,991.7 L1343.8,993.2 L1343.9,994.7 L1344.0,996.2 L1344.2,997.6 L1344.3,999.1 L1344.4,1000.6 L1344.6,1002.1 L1344.7,1003.5 L1344.9,1005.0 L1345.0,1006.5 L1345.2,1008.0 L1345.3,1009.4 L1345.5,1010.9 L1345.7,1012.4 L1345.8,1013.9 L1346.0,1015.3 L1346.2,1016.8 L1346.4,1018.3 L1346.6,1019.7 L1346.7,1021.2 L1346.9,1022.7 L1347.1,1024.1 L1347.3,1025.6 L1347.5,1027.1 L1347.7,1028.6 L1348.0,1030.0 L1348.2,1031.5 L1348.4,1033.0 L1348.6,1034.4 L1348.8,1035.9 L1349.1,1037.4 L1349.3,1038.8 L1349.5,1040.3 L1349.8,1041.8 L1350.0,1043.2 L1350.3,1044.7 L1350.5,1046.2 L1350.8,1047.6 L1351.0,1049.1 L1351.3,1050.6 L1351.6,1052.0 L1351.8,1053.5 L1352.1,1055.0 L1352.4,1056.4 L1352.7,1057.9 L1352.9,1059.4 L1353.2,1060.8 L1353.5,1062.3 L1353.8,1063.8 L1354.1,1065.2 L1354.4,1066.7 L1354.7,1068.2 L1355.0,1069.6 L1355.3,1071.1 L1355.6,1072.5 L1356.0,1074.0 L1356.3,1075.5 L1356.6,1076.9 L1356.9,1078.4 L1357.3,1079.9 L1357.6,1081.3 L1357.9,1082.8 L1358.3,1084.3 L1358.6,1085.8 L1359.0,1087.2 L1359.3,1088.7 L1359.7,1090.2 L1360.1,1091.6 L1360.4,1093.1 L1360.8,1094.6 L1361.2,1096.0 L1361.5,1097.5 L1361.9,1099.0 L1362.3,1100.4 L1362.7,1101.9 L1363.1,1103.4 L1363.5,1104.8 L1363.9,1106.3 L1364.3,1107.7 L1364.7,1109.2 L1365.1,1110.7 L1365.5,1112.1 L1365.9,1113.6 L1366.3,1115.0 L1366.7,1116.5 L1367.2,1118.0 L1367.6,1119.4 L1368.0,1120.9 L1368.5,1122.3 L1368.9,1123.8 L1369.3,1125.2 L1369.8,1126.7 L1370.2,1128.1 L1370.7,1129.6 L1371.2,1131.0 L1371.6,1132.5 L1372.1,1133.9 L1372.6,1135.4 L1373.0,1136.8 L1373.5,1138.2 L1374.0,1139.7 L1374.5,1141.1 L1375.0,1142.5 L1375.5,1144.0 L1376.0,1145.4 L1376.5,1146.8 L1377.0,1148.3 L1377.5,1149.7 L1378.0,1151.1 L1378.5,1152.5 L1379.0,1153.9 L1379.6,1155.4 L1380.1,1156.8 L1380.6,1158.2 L1381.2,1159.6 L1381.7,1161.0 L1382.3,1162.4 L1382.8,1163.8 L1383.4,1165.2 L1383.9,1166.6 L1384.5,1168.0 L1385.1,1169.4 L1385.6,1170.8 L1386.2,1172.2 L1386.8,1173.5 L1387.4,1174.9 L1388.0,1176.3 L1388.6,1177.7 L1389.1,1179.1 L1389.7,1180.4 L1390.3,1181.8 L1390.9,1183.2 L1391.6,1184.5 L1392.2,1185.9 L1392.8,1187.3 L1393.4,1188.6 L1394.0,1190.0 L1394.7,1191.3 L1395.3,1192.7 L1395.9,1194.0 L1396.6,1195.4 L1397.2,1196.7 L1397.8,1198.1 L1398.5,1199.4 L1399.1,1200.8 L1399.8,1202.1 L1400.4,1203.5 L1401.1,1204.8 L1401.7,1206.1 L1402.4,1207.5 L1403.1,1208.8 L1403.7,1210.1 L1404.4,1211.5 L1405.1,1212.8 L1405.8,1214.1 L1406.4,1215.4 L1407.1,1216.8 L1407.8,1218.1 L1408.5,1219.4 L1409.2,1220.7 L1409.9,1222.1 L1410.6,1223.4 L1411.3,1224.7 L1412.0,1226.0 L1412.7,1227.3 L1413.4,1228.6 L1414.1,1229.9 L1414.8,1231.2 L1415.5,1232.6 L1416.2,1233.9 L1416.9,1235.2 L1417.6,1236.5 L1418.4,1237.8 L1419.1,1239.1 L1419.8,1240.4 L1420.5,1241.7 L1421.3,1243.0 L1422.0,1244.3 L1422.7,1245.6 L1423.4,1246.9 L1424.2,1248.2 L1424.9,1249.5 L1425.6,1250.8 L1426.4,1252.1 L1427.1,1253.4 L1427.9,1254.7 L1428.6,1255.9 L1429.3,1257.2 L1430.1,1258.5 L1430.8,1259.8 L1431.6,1261.1 L1432.3,1262.4 L1433.1,1263.7 L1433.8,1265.0 L1434.6,1266.3 L1435.3,1267.6 L1436.1,1268.8 L1436.8,1270.1 L1437.6,1271.4 L1438.4,1272.7 L1439.1,1274.0 L1439.9,1275.3 L1440.6,1276.6 L1441.4,1277.8 L1442.1,1279.1 L1442.9,1280.4 L1443.7,1281.7 L1444.4,1283.0 L1445.2,1284.3 L1446.0,1285.6 L1446.7,1286.8 L1447.5,1288.1 L1448.3,1289.4 L1449.0,1290.7 L1449.8,1292.0 L1450.6,1293.3 L1451.3,1294.5 L1452.1,1295.8 L1452.9,1297.1 L1453.6,1298.4 L1454.4,1299.7 L1455.1,1301.0 L1455.9,1302.3 L1456.7,1303.6 L1457.4,1304.8 L1458.2,1306.1 L1459.0,1307.4 L1459.7,1308.7 L1460.5,1310.0 L1461.3,1311.3 L1462.0,1312.6 L1462.8,1313.9 L1463.6,1315.2 L1464.3,1316.4 L1465.1,1317.7 L1465.9,1319.0 L1466.6,1320.3 L1467.4,1321.6 L1468.2,1322.9 L1468.9,1324.2 L1469.7,1325.5 L1470.4,1326.8 L1471.2,1328.1 L1472.0,1329.4 L1472.7,1330.7 L1473.5,1332.0 L1474.2,1333.3 L1475.0,1334.6 L1475.7,1335.9 L1476.5,1337.2 L1477.2,1338.5 L1478.0,1339.8 L1478.7,1341.1 L1479.5,1342.4 L1480.2,1343.7 L1481.0,1345.0 L1481.7,1346.3 L1482.5,1347.6 L1483.2,1348.9 L1484.0,1350.3 L1484.7,1351.6 L1485.5,1352.9 L1486.2,1354.2 L1487.0,1355.5 L1487.7,1356.8 L1488.4,1358.1 L1489.2,1359.4 L1489.9,1360.8 L1490.6,1362.1 L1491.4,1363.4 L1492.1,1364.7 L1492.8,1366.0 L1493.6,1367.3 L1494.3,1368.7 L1495.0,1370.0 L1495.8,1371.3 L1496.5,1372.6 L1497.2,1373.9 L1497.9,1375.3 L1498.7,1376.6 L1499.4,1377.9 L1500.1,1379.2 L1500.8,1380.6 L1501.5,1381.9 L1502.2,1383.2 L1503.0,1384.5 L1503.7,1385.9 L1504.4,1387.2 L1505.1,1388.5 L1505.8,1389.9 L1506.5,1391.2 L1507.2,1392.5 L1507.9,1393.9 L1508.6,1395.2 L1509.3,1396.5 L1510.0,1397.9 L1510.7,1399.2 L1511.4,1400.5 L1512.1,1401.9 L1512.8,1403.2 L1513.5,1404.6 L1514.2,1405.9 L1514.8,1407.2 L1515.5,1408.6 L1516.2,1409.9 L1516.9,1411.3 L1517.6,1412.6 L1518.2,1414.0 L1518.9,1415.3 L1519.6,1416.7 L1520.3,1418.0 L1520.9,1419.4 L1521.6,1420.7 L1522.3,1422.1 L1522.9,1423.4 L1523.6,1424.8 L1524.2,1426.1 L1524.9,1427.5 L1525.6,1428.8 L1526.2,1430.2 L1526.9,1431.5 L1527.5,1432.9 L1528.2,1434.2 L1528.8,1435.6 L1529.4,1437.0 L1530.1,1438.3 L1530.7,1439.7 L1531.3,1441.0 L1532.0,1442.4 L1532.6,1443.8 L1533.2,1445.1 L1533.9,1446.5 L1534.5,1447.9 L1535.1,1449.2 L1535.7,1450.6 L1536.3,1452.0 L1537.0,1453.3 L1537.6,1454.7 L1538.2,1456.1 L1538.8,1457.5 L1539.4,1458.8 L1540.0,1460.2 L1540.6,1461.6 L1541.2,1463.0 L1541.8,1464.3 L1542.4,1465.7 L1542.9,1467.1 L1543.5,1468.5 L1544.1,1469.9 L1544.7,1471.2 L1545.3,1472.6 L1545.8,1474.0 L1546.4,1475.4 L1547.0,1476.8 L1547.5,1478.2 L1548.1,1479.6 L1548.7,1480.9 L1549.2,1482.3 L1549.8,1483.7 L1550.3,1485.1 L1550.9,1486.5 L1551.4,1487.9 L1552.0,1489.3 L1552.5,1490.7 L1553.0,1492.1 L1553.6,1493.5 L1554.1,1494.9 L1554.6,1496.3 L1555.2,1497.7 L1555.7,1499.1 L1556.2,1500.5 L1556.7,1501.9 L1557.2,1503.3 L1557.7,1504.7 L1558.2,1506.1 L1558.7,1507.5 L1559.2,1508.9 L1559.7,1510.3 L1560.2,1511.7 L1560.7,1513.1 L1561.2,1514.5 L1561.7,1516.0 L1562.2,1517.4 L1562.7,1518.8 L1563.1,1520.2 L1563.6,1521.6 L1564.1,1523.0 L1564.5,1524.4 L1565.0,1525.9 L1565.5,1527.3 L1565.9,1528.7 L1566.4,1530.1 L1566.8,1531.5 L1567.3,1533.0 L1567.7,1534.4 L1568.2,1535.8 L1568.6,1537.2 L1569.0,1538.7 L1569.5,1540.1 L1569.9,1541.5 L1570.3,1543.0 L1570.8,1544.4 L1571.2,1545.8 L1571.6,1547.2 L1572.0,1548.7 L1572.4,1550.1 L1572.9,1551.5 L1573.3,1553.0 L1573.7,1554.4 L1574.1,1555.9 L1574.5,1557.3 L1574.9,1558.7 L1575.3,1560.2 L1575.7,1561.6 L1576.0,1563.1 L1576.4,1564.5 L1576.8,1565.9 L1577.2,1567.4 L1577.6,1568.8 L1578.0,1570.3 L1578.3,1571.7 L1578.7,1573.2 L1579.1,1574.6 L1579.4,1576.1 L1579.8,1577.5 L1580.1,1579.0 L1580.5,1580.4 L1580.9,1581.9 L1581.2,1583.3 L1581.6,1584.8 L1581.9,1586.2 L1582.2,1587.7 L1582.6,1589.1 L1582.9,1590.6 L1583.3,1592.1 L1583.6,1593.5 L1583.9,1595.0 L1584.2,1596.4 L1584.6,1597.9 L1584.9,1599.4 L1585.2,1600.8 L1585.5,1602.3 L1585.8,1603.8 L1586.1,1605.2 L1586.5,1606.7 L1586.8,1608.2 L1587.1,1609.6 L1587.4,1611.1 L1587.7,1612.6 L1588.0,1614.0 L1588.2,1615.5 L1588.5,1617.0 L1588.8,1618.5 L1589.1,1619.9 L1589.4,1621.4 L1589.7,1622.9 L1589.9,1624.4 L1590.2,1625.8 L1590.5,1627.3 L1590.8,1628.8 L1591.0,1630.3 L1591.3,1631.7 L1591.6,1633.2 L1591.8,1634.7 L1592.1,1636.2 L1592.3,1637.7 L1592.6,1639.2 L1592.8,1640.6 L1593.1,1642.1 L1593.3,1643.6 L1593.6,1645.1 L1593.8,1646.6 L1594.0,1648.1 L1594.3,1649.6 L1594.5,1651.0 L1594.7,1652.5 L1595.0,1654.0 L1595.2,1655.5 L1595.4,1657.0 L1595.6,1658.5 L1595.8,1660.0 L1596.1,1661.5 L1596.3,1663.0 L1596.5,1664.5 L1596.7,1666.0 L1596.9,1667.5 L1597.1,1669.0 L1597.3,1670.5 L1597.5,1672.0 L1597.7,1673.5 L1597.9,1675.0 L1598.1,1676.5 L1598.3,1678.0 L1598.5,1679.5 L1598.6,1681.0 L1598.8,1682.5 L1599.0,1684.0 L1599.2,1685.5 L1599.4,1687.0 L1599.5,1688.5 L1599.7,1690.0 L1599.9,1691.5 L1600.0,1693.0 L1600.2,1694.6 L1600.4,1696.1 L1600.5,1697.6 L1600.7,1699.1 L1600.8,1700.6 L1601.0,1702.1 L1601.1,1703.6 L1601.3,1705.1 L1601.4,1706.7 L1601.6,1708.2 L1601.7,1709.7 L1601.8,1711.2 L1602.0,1712.7 L1602.1,1714.2 L1602.2,1715.7 L1602.3,1717.3 L1602.4,1718.8 L1602.5,1720.3 L1602.6,1721.8 L1602.7,1723.3 L1602.8,1724.8 L1602.8,1726.3 L1602.9,1727.8 L1603.0,1729.4 L1603.0,1730.9 L1603.0,1732.4 L1603.1,1733.9 L1603.1,1735.4 L1603.1,1736.9 L1603.1,1738.4 L1603.1,1739.9 L1603.1,1741.4 L1603.1,1742.9 L1603.1,1744.4 L1603.0,1745.9 L1603.0,1747.4 L1602.9,1748.9 L1602.8,1750.3 L1602.7,1751.8 L1602.6,1753.3 L1602.5,1754.8 L1602.4,1756.3 L1602.3,1757.7 L1602.1,1759.2 L1601.9,1760.7 L1601.8,1762.2 L1601.6,1763.6 L1601.4,1765.1 L1601.2,1766.6 L1600.9,1768.0 L1600.7,1769.5 L1600.4,1770.9 L1600.1,1772.4 L1599.8,1773.8 L1599.5,1775.3 L1599.2,1776.7 L1598.9,1778.1 L1598.5,1779.6 L1598.1,1781.0 L1597.7,1782.4 L1597.3,1783.8 L1596.9,1785.2 L1596.5,1786.7 L1596.0,1788.1 L1595.5,1789.5 L1595.0,1790.9 L1594.5,1792.3 L1594.0,1793.6 L1593.4,1795.0 L1592.8,1796.4 L1592.2,1797.8 L1591.6,1799.2 L1591.0,1800.5 L1590.3,1801.9 L1589.6,1803.3 L1588.9,1804.6 L1588.2,1805.9 L1587.4,1807.3 L1586.7,1808.6 L1585.9,1809.9 L1585.1,1811.2 L1584.3,1812.5 L1583.4,1813.7 L1582.5,1815.0 L1581.6,1816.2 L1580.7,1817.4 L1579.8,1818.6 L1578.8,1819.8 L1577.8,1820.9 L1576.8,1822.0 L1575.8,1823.1 L1574.7,1824.2 L1573.7,1825.2 L1572.6,1826.2 L1571.5,1827.2 L1570.3,1828.1 L1569.2,1829.1 L1568.0,1829.9 L1566.8,1830.8 L1565.5,1831.6 L1564.3,1832.4 L1563.0,1833.1 L1561.7,1833.8 L1560.4,1834.4 L1559.0,1835.0 L1557.7,1835.6 L1556.3,1836.1 L1554.8,1836.6 L1553.4,1837.0 L1551.9,1837.4 L1550.5,1837.8 L1549.0,1838.1 L1547.5,1838.3 L1546.0,1838.6 L1544.4,1838.8 L1542.9,1838.9 L1541.4,1839.1 L1539.8,1839.2 L1538.3,1839.3 L1536.7,1839.3 L1535.2,1839.4 L1533.6,1839.4 L1532.1,1839.4 L1530.6,1839.3 L1529.0,1839.3 L1527.5,1839.2 L1526.0,1839.1 L1524.5,1839.0 L1522.9,1838.8 L1521.4,1838.7 L1519.9,1838.5 L1518.4,1838.3 L1516.9,1838.0 L1515.5,1837.8 L1514.0,1837.6 L1512.5,1837.3 L1511.0,1837.0 L1509.5,1836.7 L1508.1,1836.3 L1506.6,1836.0 L1505.2,1835.6 L1503.7,1835.2 L1502.3,1834.8 L1500.8,1834.4 L1499.4,1834.0 L1498.0,1833.5 L1496.5,1833.1 L1495.1,1832.6 L1493.7,1832.1 L1492.3,1831.6 L1490.9,1831.0 L1489.5,1830.5 L1488.1,1829.9 L1486.7,1829.4 L1485.3,1828.8 L1483.9,1828.2 L1482.5,1827.6 L1481.2,1826.9 L1479.8,1826.3 L1478.4,1825.7 L1477.1,1825.0 L1475.7,1824.3 L1474.4,1823.6 L1473.1,1822.9 L1471.7,1822.2 L1470.4,1821.5 L1469.1,1820.8 L1467.7,1820.0 L1466.4,1819.3 L1465.1,1818.5 L1463.8,1817.7 L1462.5,1816.9 L1461.2,1816.2 L1460.0,1815.4 L1458.7,1814.5 L1457.4,1813.7 L1456.1,1812.9 L1454.9,1812.1 L1453.6,1811.2 L1452.4,1810.4 L1451.1,1809.5 L1449.9,1808.6 L1448.7,1807.8 L1447.4,1806.9 L1446.2,1806.0 L1445.0,1805.1 L1443.8,1804.2 L1442.6,1803.3 L1441.4,1802.4 L1440.2,1801.5 L1439.0,1800.6 L1437.8,1799.7 L1436.6,1798.7 L1435.5,1797.8 L1434.3,1796.9 L1433.1,1795.9 L1432.0,1795.0 L1430.8,1794.0 L1429.6,1793.1 L1428.5,1792.1 L1427.3,1791.2 L1426.2,1790.2 L1425.1,1789.2 L1423.9,1788.3 L1422.8,1787.3 L1421.7,1786.3 L1420.5,1785.3 L1419.4,1784.4 L1418.3,1783.4 L1417.1,1782.4 L1416.0,1781.4 L1414.9,1780.4 L1413.8,1779.4 L1412.6,1778.5 L1411.5,1777.5 L1410.4,1776.5 L1409.3,1775.5 L1408.2,1774.5 L1407.0,1773.5 L1405.9,1772.5 L1404.8,1771.6 L1403.7,1770.6 L1402.5,1769.6 L1401.4,1768.6 L1400.3,1767.6 L1399.2,1766.6 L1398.0,1765.7 L1396.9,1764.7 L1395.8,1763.7 L1394.6,1762.7 L1393.5,1761.8 L1392.4,1760.8 L1391.2,1759.8 L1390.1,1758.9 L1388.9,1757.9 L1387.8,1757.0 L1386.6,1756.0 L1385.5,1755.1 L1384.3,1754.1 L1383.2,1753.2 L1382.0,1752.2 L1380.8,1751.3 L1379.7,1750.3 L1378.5,1749.4 L1377.3,1748.5 L1376.1,1747.6 L1375.0,1746.6 L1373.8,1745.7 L1372.6,1744.8 L1371.4,1743.9 L1370.2,1743.0 L1369.0,1742.1 L1367.8,1741.2 L1366.6,1740.3 L1365.4,1739.4 L1364.2,1738.5 L1363.0,1737.6 L1361.8,1736.7 L1360.6,1735.8 L1359.4,1734.9 L1358.2,1734.0 L1356.9,1733.2 L1355.7,1732.3 L1354.5,1731.4 L1353.3,1730.6 L1352.0,1729.7 L1350.8,1728.8 L1349.6,1728.0 L1348.3,1727.1 L1347.1,1726.3 L1345.8,1725.4 L1344.6,1724.6 L1343.4,1723.7 L1342.1,1722.9 L1340.8,1722.1 L1339.6,1721.3 L1338.3,1720.4 L1337.1,1719.6 L1335.8,1718.8 L1334.6,1718.0 L1333.3,1717.2 L1332.0,1716.4 L1330.7,1715.6 L1329.5,1714.8 L1328.2,1714.0 L1326.9,1713.2 L1325.6,1712.4 L1324.4,1711.6 L1323.1,1710.8 L1321.8,1710.0 L1320.5,1709.3 L1319.2,1708.5 L1317.9,1707.7 L1316.6,1706.9 L1315.3,1706.2 L1314.0,1705.4 L1312.7,1704.7 L1311.4,1703.9 L1310.1,1703.2 L1308.8,1702.4 L1307.5,1701.7 L1306.2,1701.0 L1304.8,1700.2 L1303.5,1699.5 L1302.2,1698.8 L1300.9,1698.1 L1299.6,1697.4 L1298.2,1696.6 L1296.9,1695.9 L1295.6,1695.2 L1294.2,1694.5 L1292.9,1693.8 L1291.6,1693.1 L1290.2,1692.5 L1288.9,1691.8 L1287.6,1691.1 L1286.2,1690.4 L1284.9,1689.8 L1283.5,1689.1 L1282.2,1688.4 L1280.8,1687.8 L1279.5,1687.1 L1278.1,1686.5 L1276.8,1685.8 L1275.4,1685.2 L1274.0,1684.5 L1272.7,1683.9 L1271.3,1683.3 L1269.9,1682.6 L1268.6,1682.0 L1267.2,1681.4 L1265.8,1680.8 L1264.5,1680.2 L1263.1,1679.6 L1261.7,1679.0 L1260.3,1678.4 L1258.9,1677.8 L1257.6,1677.2 L1256.2,1676.6 L1254.8,1676.0 L1253.4,1675.4 L1252.0,1674.9 L1250.6,1674.3 L1249.2,1673.7 L1247.8,1673.2 L1246.4,1672.6 L1245.1,1672.1 L1243.7,1671.5 L1242.3,1671.0 L1240.9,1670.4 L1239.4,1669.9 L1238.0,1669.4 L1236.6,1668.8 L1235.2,1668.3 L1233.8,1667.8 L1232.4,1667.3 L1231.0,1666.8 L1229.6,1666.3 L1228.2,1665.8 L1226.8,1665.3 L1225.3,1664.8 L1223.9,1664.3 L1222.5,1663.8 L1221.1,1663.4 L1219.6,1662.9 L1218.2,1662.4 L1216.8,1662.0 L1215.4,1661.5 L1213.9,1661.1 L1212.5,1660.6 L1211.1,1660.2 L1209.6,1659.7 L1208.2,1659.3 L1206.8,1658.9 L1205.3,1658.5 L1203.9,1658.0 L1202.5,1657.6 L1201.0,1657.2 L1199.6,1656.8 L1198.1,1656.4 L1196.7,1656.0 L1195.2,1655.6 L1193.8,1655.2 L1192.3,1654.8 L1190.9,1654.5 L1189.4,1654.1 L1188.0,1653.7 L1186.5,1653.4 L1185.1,1653.0 L1183.6,1652.7 L1182.2,1652.3 L1180.7,1652.0 L1179.2,1651.6 L1177.8,1651.3 L1176.3,1651.0 L1174.9,1650.7 L1173.4,1650.3 L1171.9,1650.0 L1170.5,1649.7 L1169.0,1649.4 L1167.5,1649.1 L1166.1,1648.8 L1164.6,1648.5 L1163.1,1648.3 L1161.7,1648.0 L1160.2,1647.7 L1158.7,1647.4 L1157.2,1647.2 L1155.8,1646.9 L1154.3,1646.7 L1152.8,1646.4 L1151.3,1646.2 L1149.9,1645.9 L1148.4,1645.7 L1146.9,1645.5 L1145.4,1645.3 L1143.9,1645.0 L1142.5,1644.8 L1141.0,1644.6 L1139.5,1644.4 L1138.0,1644.2 L1136.5,1644.0 L1135.0,1643.9 L1133.5,1643.7 L1132.1,1643.5 L1130.6,1643.3 L1129.1,1643.2 L1127.6,1643.0 L1126.1,1642.9 L1124.6,1642.7 L1123.1,1642.6 L1121.6,1642.4 L1120.1,1642.3 L1118.6,1642.2 L1117.1,1642.1 L1115.6,1642.0 L1114.1,1641.9 L1112.7,1641.7 L1111.2,1641.7 L1109.7,1641.6 L1108.2,1641.5 L1106.7,1641.4 L1105.2,1641.3 L1103.7,1641.2 L1102.2,1641.2 L1100.7,1641.1 L1099.2,1641.1 L1097.7,1641.0 L1096.2,1641.0 L1094.7,1640.9 L1093.2,1640.9 L1091.6,1640.9 L1090.1,1640.9 L1088.6,1640.9 L1087.1,1640.9 L1085.6,1640.8 L1084.1,1640.9 L1082.6,1640.9 L1081.1,1640.9 L1079.6,1640.9 L1078.1,1640.9 L1076.6,1641.0 L1075.1,1641.0 L1073.6,1641.0 L1072.1,1641.1 L1070.6,1641.1 L1069.1,1641.2 L1067.5,1641.3 L1066.0,1641.3 L1064.5,1641.4 L1063.0,1641.5 L1061.5,1641.6 L1060.0,1641.7 L984,1641.7 L984,1560.5 Q984,1540.5 964,1540.5 L549,1540.5 Q529,1540.5 529,1560.5 Z" fill="#dcdcdc" stroke="#000" stroke-width="4.6" stroke-linejoin="round"/><g fill="#fff" stroke="#000" stroke-width="4.6"><path d="M608.8,756.4 L910.8,756.4 A49.6,49.6 0 0 0 910.8,657.2 L608.8,657.2 A49.6,49.6 0 0 0 608.8,756.4 Z"/><path d="M608.8,1086.8 L910.8,1086.8 A49.6,49.6 0 0 0 910.8,987.6 L608.8,987.6 A49.6,49.6 0 0 0 608.8,1086.8 Z"/><path d="M600.6,1384.7 L899.6,1442.7 A49.6,49.6 0 0 0 918.4,1345.3 L619.4,1287.3 A49.6,49.6 0 0 0 600.6,1384.7 Z"/></g><path d="M1230.5,1238.3 L1335.3,1327.5 A7.6,7.6 0 0 0 1345.1,1315.9 L1240.3,1226.7 A7.6,7.6 0 0 0 1230.5,1238.3 Z" fill="#fff" stroke="#000" stroke-width="2.6"/><g fill="#fff" stroke="#000" stroke-width="2"><circle cx="493.1" cy="393.1" r="14.8"/><circle cx="941.5" cy="595.6" r="14.8"/><circle cx="1425.5" cy="276.4" r="14.8"/><circle cx="1390.3" cy="610.9" r="14.8"/><circle cx="496" cy="836.9" r="14.8"/><circle cx="363.2" cy="1246.7" r="14.8"/><circle cx="469.8" cy="1594.5" r="14.8"/><circle cx="1018" cy="1594.5" r="14.8"/><circle cx="1352.3" cy="1157.2" r="14.8"/><circle cx="1487" cy="1438.2" r="14.8"/><circle cx="1553.9" cy="1803.7" r="14.8"/><circle cx="531.7" cy="706.7" r="14.8"/><circle cx="990.4" cy="706.7" r="14.8"/><circle cx="530.7" cy="1036.8" r="14.8"/><circle cx="990.4" cy="1036.8" r="14.8"/><circle cx="536" cy="1322" r="14.8"/><circle cx="987.6" cy="1409.3" r="14.8"/><circle cx="1205.6" cy="1207.2" r="14.8"/><circle cx="1372.6" cy="1345.6" r="14.8"/><circle cx="1065.1" cy="1438.3" r="21.9"/><circle cx="1281" cy="1557" r="21.9"/><circle cx="1474.6" cy="1729.7" r="21.9"/></g><g stroke="#737373" stroke-width="1.7" fill="none"><line x1="941.5" y1="595.6" x2="1425.5" y2="276.4"/><line x1="1425.5" y1="276.4" x2="1390.3" y2="610.9"/><line x1="1390.3" y1="610.9" x2="1352.3" y2="1157.2"/><line x1="1352.3" y1="1157.2" x2="1487.0" y2="1438.2"/><line x1="1487.0" y1="1438.2" x2="1553.9" y2="1803.7"/><line x1="1553.9" y1="1803.7" x2="1018.0" y2="1594.5"/><line x1="1018.0" y1="1594.5" x2="469.8" y2="1594.5"/><line x1="469.8" y1="1594.5" x2="363.2" y2="1246.7"/><line x1="363.2" y1="1246.7" x2="496.0" y2="836.9"/><line x1="495.3" y1="387.5" x2="941.5" y2="595.6"/><line x1="493.3" y1="831.7" x2="492.0" y2="386.9"/><line x1="1281.0" y1="1557.0" x2="1474.6" y2="1729.7"/><line x1="1070.1" y1="1448.3" x2="1281.0" y2="1557.0"/><line x1="749.0" y1="758.5" x2="749.0" y2="985.0"/><line x1="749.0" y1="992.7" x2="749.0" y2="1083.0"/><line x1="557.0" y1="1106.8" x2="962.0" y2="1106.8"/><line x1="531.0" y1="1190.0" x2="991.5" y2="1190.0"/><line x1="556.6" y1="1052.0" x2="556.6" y2="1113.0"/><line x1="962.0" y1="1052.0" x2="962.0" y2="1113.0"/><line x1="530.7" y1="1037.0" x2="530.7" y2="1200.0"/><line x1="991.7" y1="1037.0" x2="991.7" y2="1200.0"/><line x1="608.8" y1="549.3" x2="907.6" y2="549.3"/><line x1="528.7" y1="1642.3" x2="983.5" y2="1642.3"/><line x1="311.4" y1="1883.6" x2="1601.5" y2="1883.6"/><line x1="311.4" y1="1406.0" x2="311.4" y2="1892.0"/><line x1="1602.7" y1="1687.0" x2="1602.7" y2="1892.0"/><line x1="1697.8" y1="221.0" x2="1697.8" y2="1841.6"/><line x1="1413.9" y1="218.2" x2="1710.0" y2="218.2"/><line x1="1536.5" y1="1841.9" x2="1710.0" y2="1841.9"/><line x1="1260.0" y1="1190.4" x2="1228.3" y2="1229.2"/><line x1="1377.1" y1="1288.8" x2="1344.7" y2="1328.2"/><line x1="1259.3" y1="1194.3" x2="1372.6" y2="1290.0"/><line x1="1205.6" y1="1207.2" x2="1173.9" y2="1246.7"/><line x1="1373.2" y1="1346.3" x2="1342.2" y2="1385.2"/><line x1="1174.6" y1="1246.0" x2="1341.5" y2="1381.3"/><line x1="1103.0" y1="1390.3" x2="1077.8" y2="1419.4"/><line x1="1018.9" y1="1473.1" x2="1048.0" y2="1449.2"/></g><g fill="#000" stroke="#fff" stroke-width="1.3" stroke-linejoin="round" paint-order="stroke"><polygon points="941.5,595.6 947.7,580.0 958.3,596.0"/><polygon points="1425.5,276.4 1419.3,292.0 1408.7,276.0"/><polygon points="1425.5,276.4 1433.6,291.1 1414.5,289.1"/><polygon points="1390.3,610.9 1382.2,596.2 1401.3,598.2"/><polygon points="1390.3,610.9 1398.9,625.3 1379.8,624.0"/><polygon points="1352.3,1157.2 1343.7,1142.8 1362.8,1144.1"/><polygon points="1352.3,1157.2 1366.9,1165.5 1349.6,1173.8"/><polygon points="1487.0,1438.2 1472.4,1429.9 1489.7,1421.6"/><polygon points="1487.0,1438.2 1498.9,1450.0 1480.0,1453.5"/><polygon points="1553.9,1803.7 1542.0,1791.9 1560.9,1788.4"/><polygon points="1553.9,1803.7 1537.6,1807.6 1544.5,1789.7"/><polygon points="1018.0,1594.5 1034.3,1590.6 1027.4,1608.5"/><polygon points="1018.0,1594.5 1004.2,1604.1 1004.2,1584.9"/><polygon points="469.8,1594.5 483.6,1584.9 483.6,1604.1"/><polygon points="469.8,1594.5 456.6,1584.1 474.9,1578.5"/><polygon points="363.2,1246.7 376.4,1257.1 358.1,1262.7"/><polygon points="363.2,1246.7 358.3,1230.6 376.6,1236.5"/><polygon points="496.0,836.9 500.9,853.0 482.6,847.1"/><polygon points="495.3,387.5 511.9,384.6 503.7,402.0"/><polygon points="941.5,595.6 924.9,598.5 933.1,581.1"/><polygon points="493.3,831.7 483.7,817.9 502.9,817.9"/><polygon points="492.0,386.9 501.6,400.7 482.4,400.7"/><polygon points="1281.0,1557.0 1297.7,1559.0 1284.9,1573.4"/><polygon points="1474.6,1729.7 1457.9,1727.7 1470.7,1713.3"/><polygon points="1281.0,1557.0 1264.3,1558.8 1273.5,1541.9"/><polygon points="1065.1,1438.8 1082.3,1438.8 1073.2,1455"/><polygon points="749.0,758.5 758.6,772.3 739.4,772.3"/><polygon points="749.0,985.0 739.4,971.2 758.6,971.2"/><polygon points="749.0,992.7 758.6,1006.5 739.4,1006.5"/><polygon points="749.0,1083.0 739.4,1069.2 758.6,1069.2"/><polygon points="557.0,1106.8 570.8,1097.2 570.8,1116.4"/><polygon points="962.0,1106.8 948.2,1116.4 948.2,1097.2"/><polygon points="531.0,1190.0 544.8,1180.4 544.8,1199.6"/><polygon points="991.5,1190.0 977.7,1199.6 977.7,1180.4"/><polygon points="608.8,549.3 622.6,539.7 622.6,558.9"/><polygon points="907.6,549.3 893.8,558.9 893.8,539.7"/><polygon points="528.7,1642.3 542.5,1632.7 542.5,1651.9"/><polygon points="983.5,1642.3 969.7,1651.9 969.7,1632.7"/><polygon points="311.4,1883.6 325.2,1874.0 325.2,1893.2"/><polygon points="1601.5,1883.6 1587.7,1893.2 1587.7,1874.0"/><polygon points="1697.8,221.0 1707.4,234.8 1688.2,234.8"/><polygon points="1697.8,1841.6 1688.2,1827.8 1707.4,1827.8"/><polygon points="1259.3,1194.3 1276.0,1195.9 1263.6,1210.5"/><polygon points="1372.6,1290.0 1355.9,1288.4 1368.3,1273.8"/><polygon points="1174.6,1246.0 1191.4,1247.2 1179.3,1262.1"/><polygon points="1341.5,1381.3 1324.7,1380.1 1336.8,1365.2"/><polygon points="1077.8,1419.4 1079.6,1402.7 1094.1,1415.3"/><polygon points="1048.0,1449.2 1043.4,1465.4 1031.2,1450.5"/></g><g font-family="Liberation Sans" font-size="34" fill="#000"><text transform="translate(711.2,485.6) scale(1,1.09)">86mm</text><text transform="translate(710.0,581.4) scale(1,1.09)">56mm</text><text transform="translate(1143.9,395.6) scale(1,1.09)">96mm</text><text transform="translate(1409.5,466.3) scale(1,1.09)">60mm</text><text transform="translate(1380.4,933.3) scale(1,1.09)">94.5mm</text><text transform="translate(1706.2,1010.0) scale(1,1.09)">283mm</text><text transform="translate(385.2,707.9) scale(1,1.09)">81mm</text><text transform="translate(338.3,1027.4) scale(1,1.09)">74mm</text><text transform="translate(760.9,886.3) scale(1,1.09)">42mm</text><text transform="translate(763.2,1052.0) scale(1,1.09)">18mm</text><text transform="translate(708.9,1143.0) scale(1,1.09)">70mm</text><text transform="translate(708.9,1226.0) scale(1,1.09)">78mm</text><text transform="translate(341.3,1473.7) scale(1,1.09)">54mm</text><text transform="translate(704.2,1585.7) scale(1,1.09)">93.5mm</text><text transform="translate(718.9,1682.7) scale(1,1.09)">76mm</text><text transform="translate(1029.2,1388.0) scale(1,1.09)"><tspan font-weight="bold" font-size="35">Ø</tspan><tspan x="32.8">9.5mm</tspan></text><text transform="translate(1126.5,1473.5) scale(1,1.09)">44mm</text><text transform="translate(1178.0,1353.8) scale(1,1.09)">41mm</text><text transform="translate(1449.2,1292.1) scale(1,1.09)">54mm</text><text transform="translate(1343.2,1617.3) scale(1,1.09)">44mm</text><text transform="translate(1528.8,1657.9) scale(1,1.09)">56mm</text><text transform="translate(1177.9,1726.5) scale(1,1.09)">99.5mm</text><text transform="translate(838.6,1875.3) scale(1,1.09)">223mm</text><text transform="translate(1326,1241.7) rotate(40) scale(1,1.09)" text-anchor="middle">27mm</text></g></svg></body></html>
